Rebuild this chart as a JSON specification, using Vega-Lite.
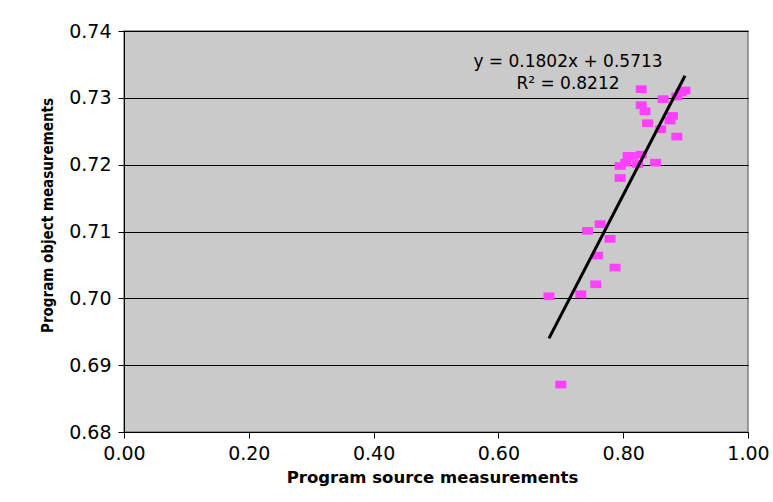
{
  "$schema": "https://vega.github.io/schema/vega-lite/v6.json",
  "autosize": {"type": "none"},
  "width": 624,
  "height": 401,
  "padding": {"left": 124, "top": 31, "right": 25, "bottom": 70},
  "background": "white",
  "config": {
    "font": "DejaVu Sans",
    "view": {"fill": "#CACACA", "stroke": "#808080", "strokeWidth": 1.5}
  },
  "datasets": {
    "pts": [
      {"src": 0.681, "obj": 0.7003},
      {"src": 0.700, "obj": 0.6871},
      {"src": 0.732, "obj": 0.7006},
      {"src": 0.743, "obj": 0.7101},
      {"src": 0.756, "obj": 0.7021},
      {"src": 0.759, "obj": 0.7064},
      {"src": 0.763, "obj": 0.7111},
      {"src": 0.779, "obj": 0.7089},
      {"src": 0.787, "obj": 0.7046},
      {"src": 0.795, "obj": 0.7180},
      {"src": 0.795, "obj": 0.7198},
      {"src": 0.804, "obj": 0.7203},
      {"src": 0.808, "obj": 0.7213},
      {"src": 0.815, "obj": 0.7213},
      {"src": 0.823, "obj": 0.7201},
      {"src": 0.829, "obj": 0.7215},
      {"src": 0.852, "obj": 0.7203},
      {"src": 0.829, "obj": 0.7313},
      {"src": 0.829, "obj": 0.7289},
      {"src": 0.835, "obj": 0.7280},
      {"src": 0.839, "obj": 0.7262},
      {"src": 0.860, "obj": 0.7253},
      {"src": 0.864, "obj": 0.7298},
      {"src": 0.875, "obj": 0.7266},
      {"src": 0.879, "obj": 0.7273},
      {"src": 0.886, "obj": 0.7242},
      {"src": 0.886, "obj": 0.7302},
      {"src": 0.899, "obj": 0.7311},
      {"src": 0.893, "obj": 0.7308}
    ],
    "trend": [
      {"src": 0.681, "obj": 0.6940},
      {"src": 0.899, "obj": 0.7333}
    ],
    "labels": [
      {"src": 0.7115, "obj": 0.7354, "text": "y = 0.1802x + 0.5713"},
      {"src": 0.7115, "obj": 0.7321, "text": "R² = 0.8212"}
    ]
  },
  "layer": [
    {
      "data": {"name": "pts"},
      "mark": {"type": "point", "shape": "M-1,-0.7L1,-0.7L1,0.7L-1,0.7Z", "filled": true, "size": 121, "color": "#FF40FF", "opacity": 1},
      "encoding": {
        "x": {"field": "src", "type": "quantitative", "scale": {"domain": [0, 1], "nice": false},
          "axis": {"values": [0, 0.2, 0.4, 0.6, 0.8, 1.0], "format": ".2f", "grid": false, "labelFlush": false, "domainColor": "black", "tickColor": "black", "tickSize": 6, "labelFontSize": 19, "labelColor": "black", "labelPadding": 6,
            "title": "Program source measurements", "titleFontSize": 16.5, "titleFontWeight": "bold", "titleColor": "black", "titlePadding": 6, "titleX": 308}},
        "y": {"field": "obj", "type": "quantitative", "scale": {"domain": [0.68, 0.74], "nice": false, "zero": false},
          "axis": {"values": [0.68, 0.69, 0.70, 0.71, 0.72, 0.73, 0.74], "format": ".2f", "grid": true, "gridColor": "black", "gridWidth": 1, "labelFlush": false, "domainColor": "black", "tickColor": "black", "tickSize": 6, "labelFontSize": 19, "labelColor": "black", "labelPadding": 7,
            "title": "Program object measurements", "titleFont": "DejaVu Sans Condensed", "titleFontSize": 15, "titleFontWeight": "bold", "titleColor": "black", "titlePadding": 13, "titleY": 184}}
      }
    },
    {
      "data": {"name": "trend"},
      "mark": {"type": "line", "color": "black", "strokeWidth": 3},
      "encoding": {
        "x": {"field": "src", "type": "quantitative"},
        "y": {"field": "obj", "type": "quantitative"}
      }
    },
    {
      "data": {"name": "labels"},
      "mark": {"type": "text", "fontSize": 17, "color": "black", "align": "center", "baseline": "middle"},
      "encoding": {
        "x": {"field": "src", "type": "quantitative"},
        "y": {"field": "obj", "type": "quantitative"},
        "text": {"field": "text"}
      }
    }
  ]
}
